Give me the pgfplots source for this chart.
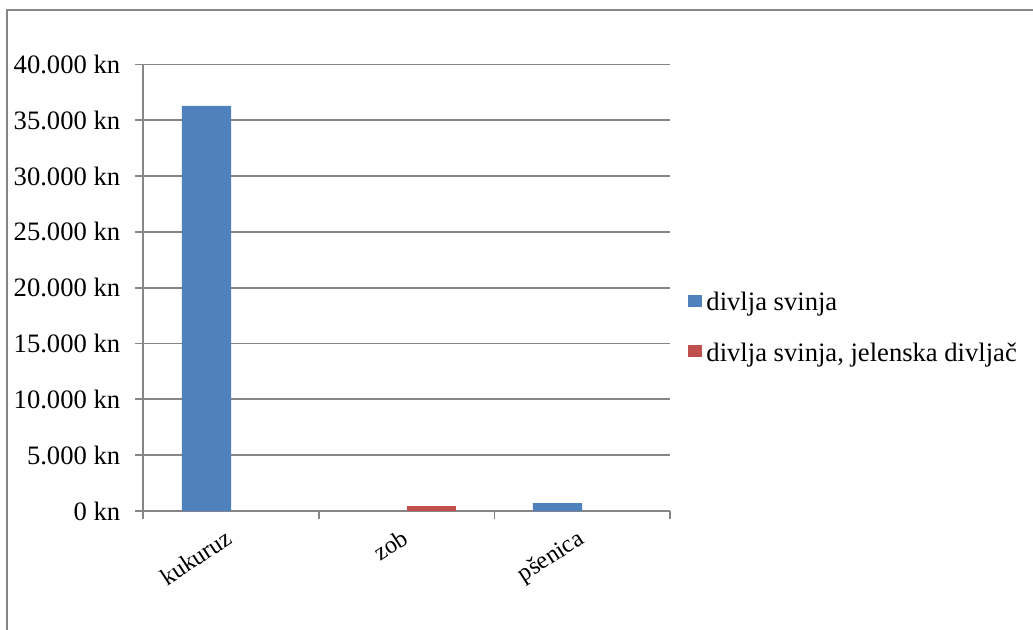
\documentclass[border=0pt]{standalone}
\usepackage{pgfplots}
\pgfplotsset{compat=1.18}
\usepackage{fontspec}
\setmainfont{Liberation Serif}
\definecolor{cblue}{HTML}{4F81BD}
\definecolor{cred}{HTML}{C0504D}
\definecolor{cgrid}{HTML}{868686}
\begin{document}
\fontsize{13.3}{16}\selectfont
\begin{tikzpicture}[x=1pt,y=1pt]
\useasboundingbox (0,0) rectangle (516.5,-315);
\draw[cgrid, line width=1pt] (3.5,-320) -- (3.5,-5) -- (520,-5);
\begin{axis}[
  at={(71.7pt,-255.5pt)}, anchor=south west,
  scale only axis, width=263.3pt, height=223.25pt,
  xmin=-0.5, xmax=2.5, ymin=0, ymax=40000,
  ybar=0pt, bar width=24.7pt,
  axis x line*=bottom, axis y line*=left,
  axis line style={cgrid, line width=0.9pt, -},
  ymajorgrids, grid style={cgrid, line width=0.9pt},
  tick align=outside,
  major tick length=4pt, minor tick length=4pt,
  tick style={cgrid, line width=0.9pt},
  ytick={0,5000,...,40000},
  scaled y ticks=false,
  yticklabel={\pgfmathprintnumber[fixed,precision=0,1000 sep={.}]{\tick}~kn},
  /pgf/number format/assume math mode=true,
  yticklabel style={font=\fontsize{13.3}{16}\selectfont, xshift=-3pt},
  xtick={0,1,2}, xticklabels={kukuruz,zob,pšenica},
  major x tick style={draw=none},
  minor xtick={-0.5,0.5,1.5,2.5},
  xticklabel style={font=\fontsize{12.2}{14}\selectfont, rotate=33, anchor=north east, inner sep=0pt, xshift=-5pt, yshift=-2pt},
  legend style={at={(1,0.406)}, anchor=west, xshift=8.85pt, draw=none, fill=none, inner sep=0pt,
    font=\fontsize{13.3}{16}\selectfont, row sep=12.95pt,
    nodes={inner sep=0pt, text height=9.5pt, text depth=3pt},
    /tikz/every odd column/.style={column sep=2.2pt}},
  legend cell align=left,
  legend image code/.code={\fill[#1] (0pt,-1.15pt) rectangle (7pt,4.85pt);},
]
\addplot[fill=cblue, draw=none] coordinates {(0,36300) (2,710)};
\addplot[fill=cred, draw=none] coordinates {(1,460)};
\legend{divlja svinja, {divlja svinja, jelenska divljač}}
\end{axis}
\end{tikzpicture}
\end{document}
